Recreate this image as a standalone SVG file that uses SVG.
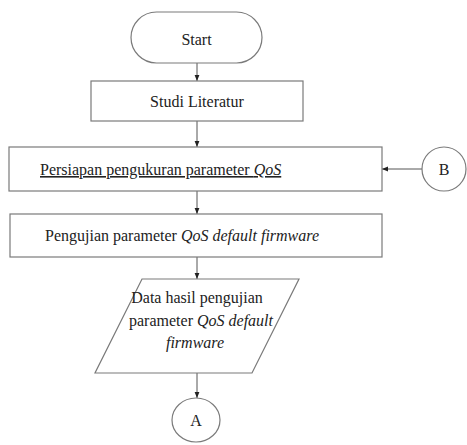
<svg xmlns="http://www.w3.org/2000/svg" width="467" height="445" viewBox="0 0 467 445">
<defs>
<style>
.s{fill:#fff;stroke:#7a7a7a;stroke-width:1.2}
.t{font-family:"Liberation Serif",serif;font-size:16px;fill:#222}
.m{text-anchor:middle}
.i{font-style:italic}
.c{stroke:#555;stroke-width:1;fill:none}
</style>
<marker id="ah" viewBox="0 0 10 10" refX="10" refY="5" markerWidth="6" markerHeight="6" orient="auto" markerUnits="userSpaceOnUse">
<path d="M0,1 L10,5 L0,9 z" fill="#222"/>
</marker>
</defs>
<rect width="467" height="445" fill="#fff"/>
<g id="connectors">
<line class="c" x1="197" y1="63" x2="197" y2="81" marker-end="url(#ah)"/>
<line class="c" x1="197" y1="121" x2="197" y2="147" marker-end="url(#ah)"/>
<line class="c" x1="197" y1="191" x2="197" y2="214" marker-end="url(#ah)"/>
<line class="c" x1="197" y1="257" x2="197" y2="279" marker-end="url(#ah)"/>
<line class="c" x1="197" y1="373" x2="197" y2="398" marker-end="url(#ah)"/>
<line class="c" x1="422" y1="169" x2="382" y2="169" marker-end="url(#ah)"/>
</g>
<g id="start">
<rect class="s" x="131" y="12" width="131" height="51" rx="25.5" ry="25.5"/>
<text class="t m" x="196.5" y="45">Start</text>
</g>
<g id="studi">
<rect class="s" x="91" y="81" width="212" height="40"/>
<text class="t m" x="197" y="107">Studi Literatur</text>
</g>
<g id="persiapan">
<rect class="s" x="9" y="147" width="373" height="44"/>
<text class="t" x="40" y="175" text-decoration="underline">Persiapan pengukuran parameter <tspan class="i">QoS</tspan></text>
</g>
<g id="b">
<circle class="s" cx="444" cy="169" r="22"/>
<text class="t m" x="444" y="175">B</text>
</g>
<g id="pengujian">
<rect class="s" x="10" y="214" width="372" height="43"/>
<text class="t" x="45" y="241">Pengujian parameter <tspan class="i">QoS default firmware</tspan></text>
</g>
<g id="data">
<polygon class="s" points="142,279 299,279 252,373 95,373"/>
<text class="t m" x="197" y="303">Data hasil pengujian</text>
<text class="t m" x="201" y="326">parameter <tspan class="i">QoS default</tspan></text>
<text class="t m i" x="195" y="348">firmware</text>
</g>
<g id="a">
<ellipse class="s" cx="196" cy="420" rx="24" ry="22"/>
<text class="t m" x="196" y="426">A</text>
</g>
</svg>
